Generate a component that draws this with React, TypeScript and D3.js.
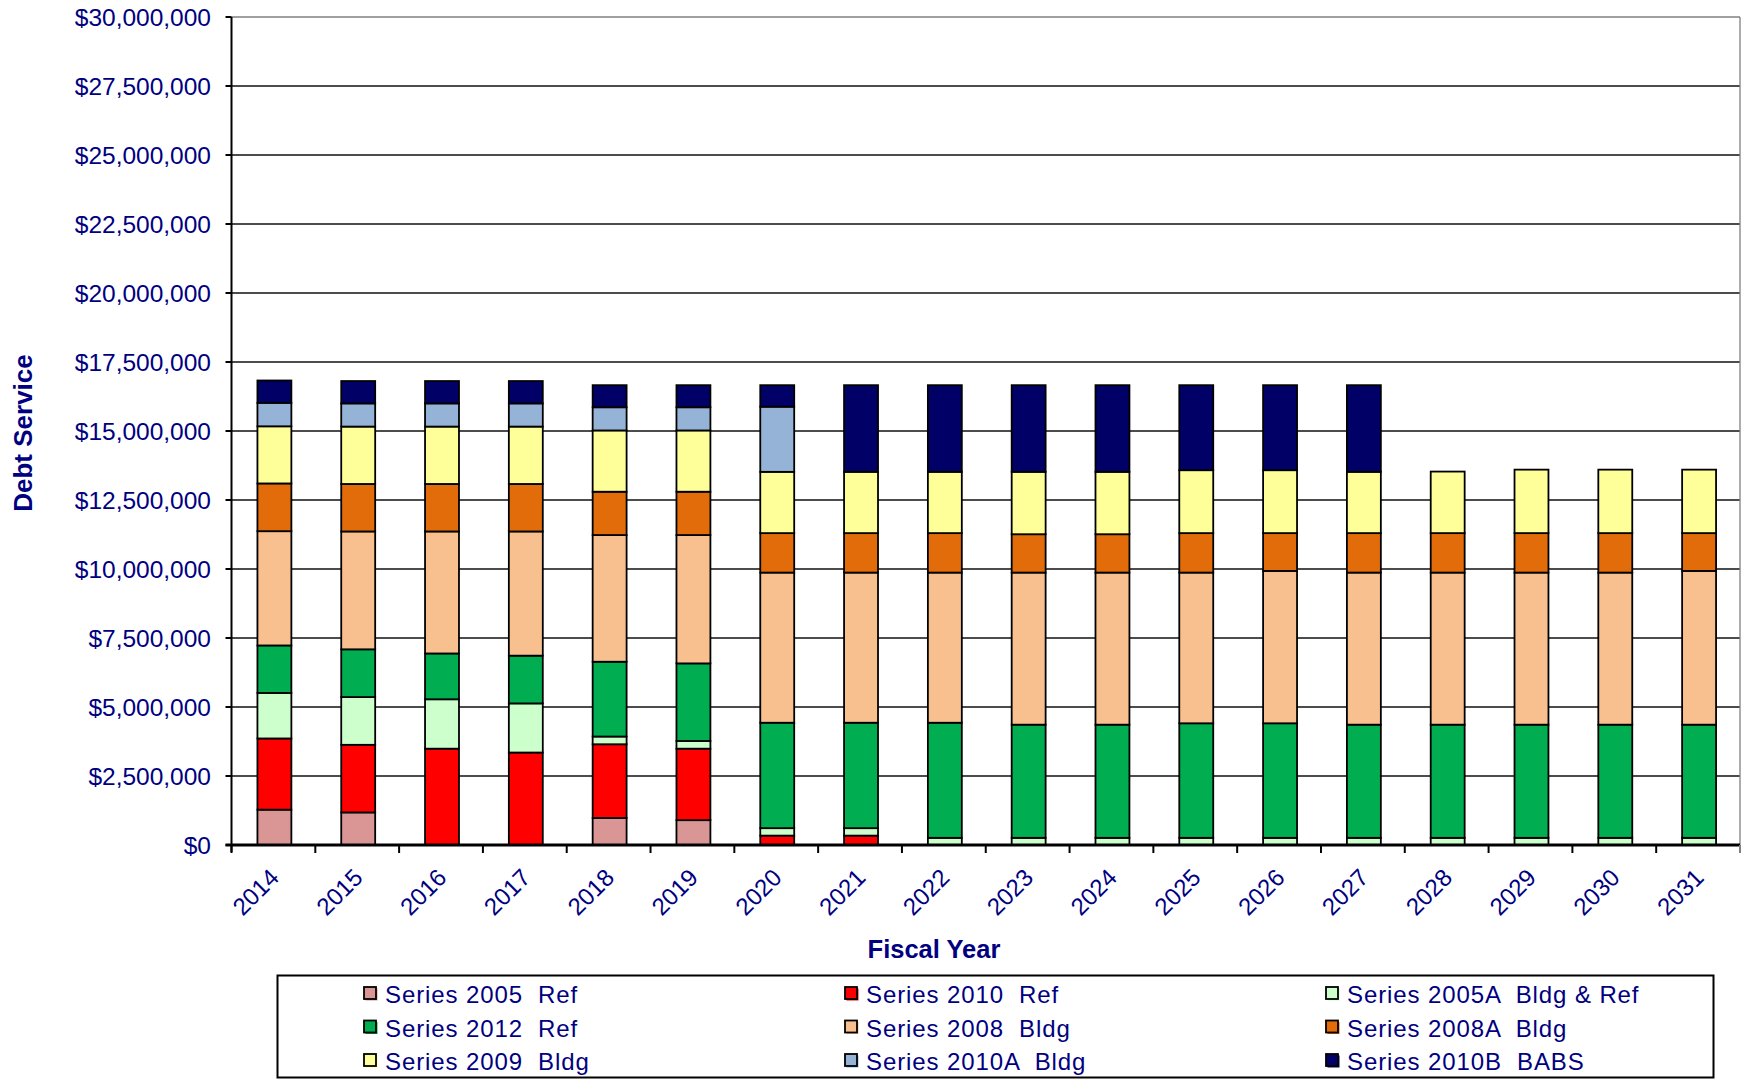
import React from 'react';
import * as d3 from 'd3';

const categories = ['2014','2015','2016','2017','2018','2019','2020','2021','2022','2023','2024','2025','2026','2027','2028','2029','2030','2031'];

const seriesNames = [
  'Series 2005  Ref',
  'Series 2010  Ref',
  'Series 2005A  Bldg & Ref',
  'Series 2012  Ref',
  'Series 2008  Bldg',
  'Series 2008A  Bldg',
  'Series 2009  Bldg',
  'Series 2010A  Bldg',
  'Series 2010B  BABS',
];

const seriesColors = ['#D99694', '#FF0000', '#CCFFCC', '#00AD50', '#F9C08F', '#E36C0A', '#FFFF99', '#95B3D7', '#000066'];

const s2005Ref = [1280000, 1180000, 0, 0, 980000, 900000, 0, 0, 0, 0, 0, 0, 0, 0, 0, 0, 0, 0];
const s2010Ref = [2580000, 2450000, 3490000, 3350000, 2670000, 2590000, 340000, 340000, 0, 0, 0, 0, 0, 0, 0, 0, 0, 0];
const s2005A = [1650000, 1730000, 1790000, 1780000, 280000, 280000, 270000, 270000, 260000, 260000, 260000, 260000, 260000, 260000, 260000, 260000, 260000, 260000];
const s2012Ref = [1720000, 1730000, 1660000, 1730000, 2710000, 2810000, 3820000, 3820000, 4170000, 4100000, 4100000, 4150000, 4150000, 4100000, 4100000, 4100000, 4100000, 4100000];
const s2008Bldg = [4140000, 4270000, 4420000, 4500000, 4590000, 4650000, 5440000, 5440000, 5440000, 5510000, 5510000, 5460000, 5520000, 5510000, 5510000, 5510000, 5510000, 5570000];
const s2008A = [1730000, 1720000, 1720000, 1720000, 1570000, 1570000, 1430000, 1430000, 1430000, 1390000, 1390000, 1430000, 1370000, 1430000, 1430000, 1430000, 1430000, 1370000];
const s2009 = [2070000, 2080000, 2080000, 2080000, 2220000, 2220000, 2220000, 2220000, 2220000, 2260000, 2260000, 2280000, 2280000, 2220000, 2230000, 2300000, 2300000, 2300000];
const s2010A = [850000, 840000, 840000, 840000, 840000, 840000, 2360000, 0, 0, 0, 0, 0, 0, 0, 0, 0, 0, 0];
const s2010B = [810000, 810000, 810000, 810000, 800000, 800000, 780000, 3140000, 3140000, 3140000, 3140000, 3080000, 3080000, 3140000, 0, 0, 0, 0];

const yTicks = [0, 2500000, 5000000, 7500000, 10000000, 12500000, 15000000, 17500000, 20000000, 22500000, 25000000, 27500000, 30000000];

const seriesValues = [s2005Ref, s2010Ref, s2005A, s2012Ref, s2008Bldg, s2008A, s2009, s2010A, s2010B];

const FONT = '"Liberation Sans", Arial, sans-serif';
const NAVY = '#000080';

export default function App() {
  const W = 1745, H = 1080;
  const left = 231.5, right = 1740, top = 17, bottom = 845;

  const x = d3.scaleBand<string>().domain(categories).range([left, right]).paddingInner(0).paddingOuter(0);
  const y = d3.scaleLinear().domain([0, 30000000]).range([bottom, top]);

  const rows = categories.map((c, i) => {
    const r: any = { cat: c };
    seriesNames.forEach((s, k) => { r[s] = seriesValues[k][i]; });
    return r;
  });
  const stacked = d3.stack<any>().keys(seriesNames)(rows);

  const bw = x.bandwidth() * 0.405;
  const fmt = (v: number) => '$' + d3.format(',')(v);

  const legendCols = [364, 845, 1326];
  const legendRows = [987, 1020.5, 1054];

  return (
    <svg width={W} height={H} style={{ position: 'absolute', left: 0, top: 0, background: '#fff' }} fontFamily={FONT}>
      <rect x={0} y={0} width={W} height={H} fill="#fff" />
      {/* gridlines */}
      {yTicks.map((t) => (
        <line key={'g' + t} x1={left} x2={right} y1={y(t)} y2={y(t)}
          stroke={t === 30000000 ? '#808080' : '#111'} strokeWidth={1.3} />
      ))}
      {/* right border */}
      <line x1={right} x2={right} y1={top} y2={bottom} stroke="#808080" strokeWidth={1.3} />
      {/* bars */}
      {stacked.map((layer, k) => (
        <g key={'s' + k}>
          {layer.map((d, i) => {
            const h = y(d[0]) - y(d[1]);
            if (h <= 0.01) return null;
            const cx = (x(categories[i]) as number) + x.bandwidth() / 2 + 1;
            return (
              <rect key={i} x={cx - bw / 2} y={y(d[1])} width={bw} height={h}
                fill={seriesColors[k]} stroke="#000" strokeWidth={1.8} />
            );
          })}
        </g>
      ))}
      {/* y axis */}
      <line x1={left} x2={left} y1={top} y2={bottom + 7} stroke="#000" strokeWidth={2} />
      {yTicks.map((t) => (
        <g key={'yt' + t}>
          <line x1={left - 6} x2={left} y1={y(t)} y2={y(t)} stroke="#000" strokeWidth={2} />
          <text x={211} y={y(t) + 8.8} textAnchor="end" fontSize={24.5} fill={NAVY}>{fmt(t)}</text>
        </g>
      ))}
      {/* x axis */}
      <line x1={left - 6} x2={right} y1={bottom} y2={bottom} stroke="#000" strokeWidth={2.8} />
      {categories.map((c, i) => (
        <line key={'xt' + c} x1={(x(c) as number)} x2={(x(c) as number)} y1={bottom} y2={bottom + 8} stroke="#000" strokeWidth={2} />
      ))}
      <line x1={right} x2={right} y1={bottom} y2={bottom + 8} stroke="#808080" strokeWidth={2} />
      {categories.map((c) => {
        const ax = (x(c) as number) + x.bandwidth() / 2 + 7;
        const ay = bottom + 34;
        return (
          <text key={'xl' + c} x={ax} y={ay} transform={`rotate(-45 ${ax} ${ay})`} textAnchor="end" fontSize={24} fill={NAVY}>{c}</text>
        );
      })}
      {/* axis titles */}
      <text x={934} y={958} textAnchor="middle" fontSize={25.5} fontWeight="bold" fill={NAVY}>Fiscal Year</text>
      <text x={0} y={0} transform={`translate(32 433) rotate(-90)`} textAnchor="middle" fontSize={26} fontWeight="bold" fill={NAVY}>Debt Service</text>
      {/* legend */}
      <rect x={277.5} y={975.5} width={1436} height={102} fill="#fff" stroke="#000" strokeWidth={2} />
      {seriesNames.map((s, k) => {
        const lx = legendCols[k % 3];
        const ly = legendRows[Math.floor(k / 3)];
        return (
          <g key={'lg' + k}>
            <rect x={lx + 1.5} y={ly + 1.5} width={12} height={12} fill={seriesColors[k]} />
            <rect x={lx} y={ly} width={12} height={12} fill={seriesColors[k]} stroke="#000" strokeWidth={1.8} />
            <text x={lx + 21} y={ly + 16} fontSize={24} letterSpacing={0.9} fill={NAVY} style={{ whiteSpace: 'pre' }}>{s}</text>
          </g>
        );
      })}
    </svg>
  );
}
